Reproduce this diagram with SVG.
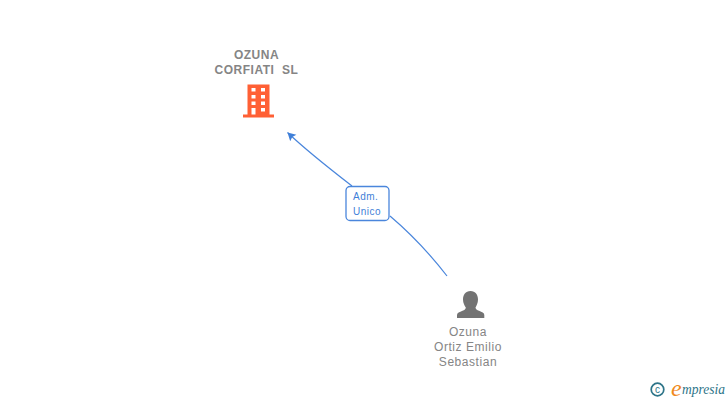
<svg xmlns="http://www.w3.org/2000/svg" width="728" height="400" viewBox="0 0 728 400">
<style>
.t{font-family:"Liberation Sans",Arial,sans-serif;font-size:12px;fill:#858585;text-anchor:middle;letter-spacing:.55px}
.b{font-weight:bold;letter-spacing:.5px}
.l{font-family:"Liberation Sans",Arial,sans-serif;font-size:10px;fill:#3f7fd8;letter-spacing:.5px}
.c{fill:none;stroke:#4a86dc;stroke-width:1.200}
</style>
<defs><marker id="a" markerUnits="userSpaceOnUse" markerWidth="10" markerHeight="10" refX="8" refY="4.500" orient="auto"><path d="M8 4.500L0 0L1.500 4.500L0 9Z" fill="#3f7fd8"/></marker></defs>
<rect width="728" height="400" fill="#fff"/>
<g id="connectors">
<path class="c" d="M447 276C430 254 410 233 390 216"/>
<path class="c" d="M352 186C330 169 308 152 287.500 132.500" marker-end="url(#a)"/>
</g>
<g id="edge-label">
<rect x="346" y="186.500" width="43" height="34" rx="4" fill="#fff" stroke="#4a86dc" stroke-width="1.300"/>
<text class="l" x="353" y="200">Adm.</text>
<text class="l" x="353" y="215">Unico</text>
</g>
<g id="company">
<text class="t b" x="256.500" y="59">OZUNA</text>
<text class="t b" x="256.500" y="74" xml:space="preserve">CORFIATI  SL</text>
<path fill="#ff6035" fill-rule="evenodd" d="M247.500 84.500H269.500V114.500H274V117.500H243V114.500H247.500ZM251.500 88V91.500H255.500V88ZM261 88V91.500H265V88ZM251.500 95V98.500H255.500V95ZM261 95V98.500H265V95ZM251.500 101.500V105H255.500V101.500ZM261 101.500V105H265V101.500ZM251.500 108V114.500H255.500V108ZM261 108V111.500H265V108Z"/>
</g>
<g id="person">
<path fill="#737373" d="M470.500 291C475.500 291 478 295 478 299.500C478 303 476.500 305.500 475.500 307.500C475.500 309 477 310 479 310.800C482 312 484.300 313 484.300 315V318H457V315C457 313 459.500 312 462.500 310.800C464.500 310 465.800 309 465.800 307.500C464.500 305.500 463 303 463 299.500C463 295 465.500 291 470.500 291Z"/>
<text class="t" x="468" y="336">Ozuna</text>
<text class="t" x="468" y="351">Ortiz Emilio</text>
<text class="t" x="468" y="366">Sebastian</text>
</g>
<g id="logo">
<circle cx="657.500" cy="389.500" r="6.300" fill="none" stroke="#2d7488" stroke-width="1.700"/>
<text x="657.500" y="393" font-family="Liberation Sans,sans-serif" font-size="10" fill="#2d7488" text-anchor="middle">c</text>
<text x="671" y="396" font-family="Liberation Serif,serif" font-style="italic" font-size="24" fill="#f08a1d">e</text>
<text x="682" y="394" font-family="Liberation Serif,serif" font-style="italic" font-size="14" fill="#2d7488" textLength="43" lengthAdjust="spacingAndGlyphs">mpresia</text>
</g>
</svg>
